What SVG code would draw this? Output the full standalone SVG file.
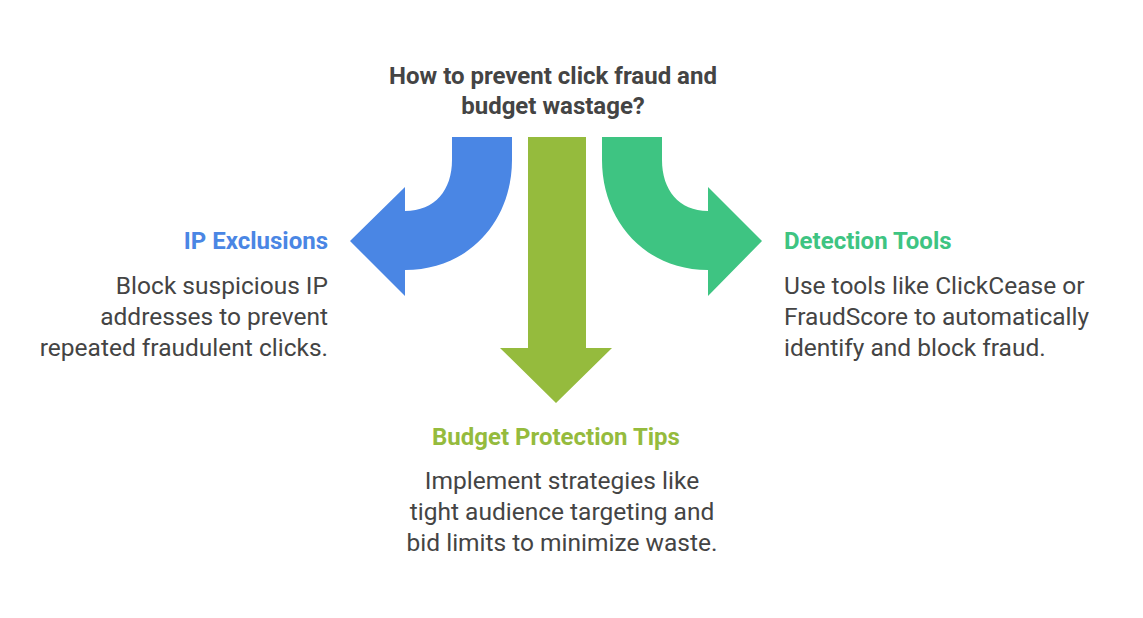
<svg xmlns="http://www.w3.org/2000/svg" width="1143" height="618" viewBox="0 0 1143 618">
<style>
.t{font-family:Roboto,"Liberation Sans",sans-serif;font-weight:bold;font-size:24px}
.b{font-family:Roboto,"Liberation Sans",sans-serif;font-size:24.5px;fill:#444}
</style>
<rect width="1143" height="618" fill="#fff"/>
<g id="connectors">
<path d="M452,137 L512,137 L512,160 C512,220 470,270 405,270 L405,296 L350,241 L405,187 L405,211 C435,211 452,190 452,160 Z" fill="#4a86e4"/>
<path d="M662,137 L602,137 L602,160 C602,220 644,270 708,270 L708,296 L762,241 L708,187 L708,211 C679,211 662,190 662,160 Z" fill="#3ec482"/>
<path d="M528,137 L586,137 L586,348 L612,348 L556,403 L500,348 L528,348 Z" fill="#95bb3d"/>
</g>
<g id="title"><text class="t" fill="#444" text-anchor="middle"><tspan x="553" y="84">How to prevent click fraud and</tspan><tspan x="553" y="114">budget wastage?</tspan></text></g>
<g id="ip"><text class="t" fill="#4a86e4" x="328" y="249" text-anchor="end">IP Exclusions</text>
<text class="b" text-anchor="end"><tspan x="328" y="294">Block suspicious IP</tspan><tspan x="328" y="325">addresses to prevent</tspan><tspan x="328" y="356">repeated fraudulent clicks.</tspan></text></g>
<g id="detect"><text class="t" fill="#3ec482" x="784" y="249">Detection Tools</text>
<text class="b"><tspan x="784" y="294">Use tools like ClickCease or</tspan><tspan x="784" y="325">FraudScore to automatically</tspan><tspan x="784" y="356">identify and block fraud.</tspan></text></g>
<g id="budget"><text class="t" fill="#95bb3d" x="556" y="445" text-anchor="middle">Budget Protection Tips</text>
<text class="b" text-anchor="middle"><tspan x="562" y="489">Implement strategies like</tspan><tspan x="562" y="520">tight audience targeting and</tspan><tspan x="562" y="551">bid limits to minimize waste.</tspan></text></g>
</svg>
